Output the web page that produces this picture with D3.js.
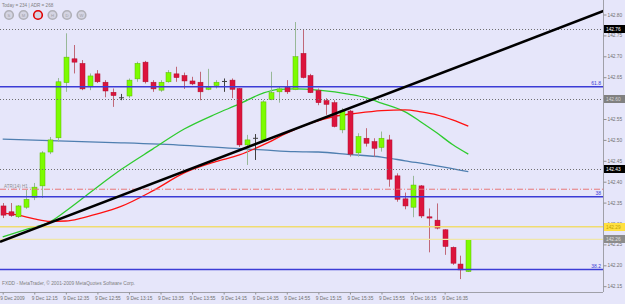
<!DOCTYPE html>
<html><head><meta charset="utf-8">
<script src="https://cdn.jsdelivr.net/npm/d3@7/dist/d3.min.js"></script>
<style>
body{margin:0;background:#e6e6fa;}
svg{display:block;font-family:"Liberation Sans",Arial,sans-serif;}
</style></head><body>
<svg width="625" height="304"></svg>
<script>
// 5 minute GBPJPY bars, 9 Dec 2009
var opens = [142.342,142.328,142.316,142.339,142.363,142.390,142.471,142.505,142.637,142.694,
  142.683,142.627,142.658,142.638,142.614,142.602,142.605,142.646,142.686,142.638,
  142.619,142.639,142.658,142.654,142.641,142.638,142.621,142.630,142.641,142.643,
  142.623,142.488,142.505,142.500,142.597,142.615,142.626,142.621,142.707,142.654,
  142.618,142.594,142.589,142.524,142.569,142.469,142.504,142.496,142.482,142.500,
  142.414,142.359,142.339,142.390,142.316,142.308,142.285,142.243,142.203,142.185];
var highs = [142.349,142.349,142.344,142.380,142.397,142.473,142.507,142.648,142.755,142.727,
  142.691,142.659,142.667,142.643,142.623,142.610,142.647,142.687,142.689,142.643,
  142.643,142.667,142.675,142.661,142.651,142.663,142.670,142.643,142.647,142.647,
  142.624,142.512,142.514,142.595,142.663,142.627,142.643,142.782,142.763,142.658,
  142.623,142.600,142.595,142.576,142.572,142.516,142.528,142.504,142.520,142.512,
  142.420,142.374,142.414,142.392,142.336,142.348,142.286,142.245,142.223,142.263];
var lows = [142.313,142.316,142.313,142.335,142.356,142.361,142.466,142.495,142.615,142.659,
  142.619,142.619,142.636,142.602,142.579,142.595,142.600,142.639,142.635,142.615,
  142.615,142.637,142.639,142.622,142.631,142.595,142.619,142.623,142.615,142.600,
  142.483,142.440,142.452,142.496,142.595,142.589,142.610,142.619,142.647,142.612,
  142.583,142.560,142.530,142.516,142.460,142.460,142.484,142.460,142.472,142.388,
  142.352,142.334,142.315,142.313,142.231,142.286,142.225,142.201,142.167,142.184];
var closes = [142.320,142.319,142.342,142.358,142.387,142.469,142.500,142.639,142.698,142.686,
  142.622,142.653,142.639,142.617,142.606,142.602,142.643,142.683,142.639,142.622,
  142.638,142.661,142.649,142.641,142.634,142.615,142.625,142.638,142.641,142.621,
  142.488,142.500,142.505,142.591,142.613,142.622,142.615,142.699,142.649,142.613,
  142.589,142.585,142.532,142.569,142.466,142.508,142.492,142.480,142.504,142.406,
  142.358,142.342,142.392,142.318,142.313,142.289,142.245,142.205,142.189,142.262];

// moving averages, [bar, price]
var maGreen = [[0,142.268],[3,142.286],[6,142.304],[8,142.330],[11,142.373],[15,142.429],[19,142.478],
  [23,142.526],[27,142.562],[30,142.586],[33,142.612],[35,142.621],[37,142.622],[40,142.619],[44,142.609],
  [46,142.601],[48,142.588],[51,142.567],[53,142.543],[55,142.517],[57,142.489],[59,142.466]];
var maRed = [[0,142.325],[2,142.320],[4,142.311],[6,142.305],[8,142.306],[10,142.313],[12,142.323],
  [15,142.341],[19,142.378],[23,142.421],[27,142.448],[30,142.464],[33,142.488],[36,142.516],[39,142.540],
  [42,142.556],[45,142.564],[48,142.570],[51,142.572],[53,142.567],[55,142.560],[57,142.548],[59,142.533]];
var maBlue = [[0,142.502],[8,142.497],[15,142.493],[23,142.487],[30,142.479],[33,142.476],[37,142.472],
  [40,142.471],[44,142.465],[48,142.459],[51,142.450],[55,142.438],[59,142.424]];

var trend = [[-0.34,142.256],[76.5,142.811]];

var timeBars = [0,4,8,12,16,20,24,28,32,36,40,44,48,52,56];
var timeLabels = ["9 Dec 2009","9 Dec 12:15","9 Dec 12:35","9 Dec 12:55","9 Dec 13:15","9 Dec 13:35",
  "9 Dec 13:55","9 Dec 14:15","9 Dec 14:35","9 Dec 14:55","9 Dec 15:15","9 Dec 15:35","9 Dec 15:55",
  "9 Dec 16:15","9 Dec 16:35"];
var priceTicks = [142.15,142.20,142.25,142.30,142.35,142.40,142.45,142.50,142.55,142.60,142.65,142.70,142.75,142.80];

var dottedLevels = [142.765,142.597,142.430];
var dottedLabels = ["142.76","142.60","142.43"];
var fibLevels = [142.627,142.364,142.190];
var fibLabels = ["61.8","38","38.2"];
var atrLevel = 142.382;
var askLevel = 142.292, bidLevel = 142.262;

var svg = d3.select("svg"),
    right = 603, bottom = 292;

var x = d3.scaleLinear().domain([0,59]).range([2.7,468.3]),
    y = d3.scaleLinear().domain([142.15,142.80]).range([286.2,14.5]);

svg.append("rect").attr("width",625).attr("height",304).attr("fill","#e6e6fa");
svg.append("clipPath").attr("id","clip").append("rect").attr("width",right).attr("height",bottom);
var g = svg.append("g").attr("clip-path","url(#clip)");

// moving averages
var line = d3.line().x(function(d){return x(d[0]);}).y(function(d){return y(d[1]);}).curve(d3.curveMonotoneX);
g.append("path").attr("d",line(maBlue)).attr("fill","none").attr("stroke","#4f7fb0").attr("stroke-width",1.3);
g.append("path").attr("d",line(maGreen)).attr("fill","none").attr("stroke","#2ecb2e").attr("stroke-width",1.3);
g.append("path").attr("d",line(maRed)).attr("fill","none").attr("stroke","#ff1010").attr("stroke-width",1.3);

// candles
var idx = d3.range(opens.length);
var cand = g.selectAll(".c").data(idx).enter().append("g").attr("class","c");
cand.append("line")
  .attr("x1",function(i){return Math.round(x(i))+0.5;}).attr("x2",function(i){return Math.round(x(i))+0.5;})
  .attr("y1",function(i){return y(highs[i]);}).attr("y2",function(i){return y(lows[i]);})
  .attr("stroke",function(i){ return closes[i]>opens[i] ? "#98b898" : closes[i]<opens[i] ? "#c06878" : "#404040"; })
  .attr("stroke-width",1);
cand.append("rect")
  .attr("x",function(i){return Math.round(x(i))-2;}).attr("width",5)
  .attr("y",function(i){return y(Math.max(opens[i],closes[i]));})
  .attr("height",function(i){return Math.max(1,Math.abs(y(opens[i])-y(closes[i])));})
  .attr("fill",function(i){ return closes[i]>opens[i] ? "#7cfc00" : closes[i]<opens[i] ? "#dc143c" : "#404040"; })
  .attr("stroke",function(i){ return closes[i]>opens[i] ? "#5cb800" : closes[i]<opens[i] ? "#b01030" : "none"; })
  .attr("stroke-width",0.5);

// levels
g.selectAll(".dl").data(dottedLevels).enter().append("line")
  .attr("x1",0).attr("x2",right).attr("y1",function(d){return Math.round(y(d))+0.5;}).attr("y2",function(d){return Math.round(y(d))+0.5;})
  .attr("stroke","#707070").attr("stroke-dasharray","1,2");
g.append("line").attr("x1",0).attr("x2",right).attr("y1",y(atrLevel)).attr("y2",y(atrLevel))
  .attr("stroke","#e87878").attr("stroke-dasharray","6,2,1,2");
g.append("text").attr("x",4).attr("y",y(atrLevel)-1.5).attr("font-size",4.5).attr("fill","#909090").text("ATR(14) H1 ...");
g.append("line").attr("x1",0).attr("x2",right).attr("y1",y(askLevel)).attr("y2",y(askLevel))
  .attr("stroke","#f0dc70").attr("stroke-width",1.5);
g.append("line").attr("x1",0).attr("x2",right).attr("y1",y(bidLevel)).attr("y2",y(bidLevel))
  .attr("stroke","#f0e6a8").attr("stroke-width",1.2);
g.selectAll(".fl").data(fibLevels).enter().append("line")
  .attr("x1",0).attr("x2",right).attr("y1",function(d){return y(d);}).attr("y2",function(d){return y(d);})
  .attr("stroke","#3c3cd6").attr("stroke-width",1.6);
g.selectAll(".ft").data(fibLevels).enter().append("text")
  .attr("x",601).attr("y",function(d){return y(d)-1.5;}).attr("text-anchor","end")
  .attr("font-size",5).attr("fill","#3c3cd6").text(function(d,i){return fibLabels[i];});

// trend line
g.append("path").attr("d",d3.line().x(function(d){return x(d[0]);}).y(function(d){return y(d[1]);})(trend))
  .attr("stroke","#000").attr("stroke-width",2.6).attr("fill","none");

// frame
svg.append("line").attr("x1",right+0.5).attr("x2",right+0.5).attr("y1",0).attr("y2",bottom).attr("stroke","#a0a0a8");
svg.append("line").attr("x1",0).attr("x2",right).attr("y1",bottom+0.5).attr("y2",bottom+0.5).attr("stroke","#a0a0a8");

// price axis
var ya = svg.append("g").attr("transform","translate("+(right+0.5)+",0)")
  .call(d3.axisRight(y).tickValues(priceTicks).tickSize(3).tickFormat(d3.format(".2f")));
ya.select(".domain").remove();
ya.selectAll("line").attr("stroke","#909090");
ya.selectAll("text").attr("font-size",4.8).attr("fill","#707070").attr("x",4).attr("font-family","Liberation Sans, Arial");

// time axis
var xa = svg.append("g").attr("transform","translate(0,"+(bottom+0.5)+")")
  .call(d3.axisBottom(x).tickValues(timeBars).tickSize(2).tickFormat(function(d,i){return timeLabels[i];}));
xa.select(".domain").remove();
xa.selectAll("line").attr("stroke","#909090");
xa.selectAll("text").attr("font-size",4.8).attr("fill","#707070").attr("text-anchor","start")
  .attr("dx",-3).attr("y",4).attr("font-family","Liberation Sans, Arial");

// price boxes
function box(price, label, fill, color) {
  var yy = Math.round(y(price));
  svg.append("rect").attr("x",right+1).attr("y",yy-4).attr("width",22).attr("height",8).attr("fill",fill);
  svg.append("text").attr("x",right+3).attr("y",yy+2).attr("font-size",4.8).attr("fill",color).text(label);
}
box(dottedLevels[0],dottedLabels[0],"#000","#fff");
box(dottedLevels[1],dottedLabels[1],"#808080","#d8d8d8");
box(dottedLevels[2],dottedLabels[2],"#000","#fff");
box(askLevel,"142.29","#ffe040","#c0a000");
box(bidLevel,"142.26","#8c8c8c","#e0e0e0");

// header
svg.append("text").attr("x",2).attr("y",7).attr("font-size",4.6).attr("fill","#808080").text("Today = 234  |  ADR = 268");
var icons = ["S","M","","H","D","W"];
var ic = svg.selectAll(".ic").data(icons).enter().append("g")
  .attr("transform",function(d,i){return "translate("+(9+i*14.5)+",15)";});
ic.append("circle").attr("r",4.3).attr("fill","#d4d4e2")
  .attr("stroke",function(d,i){return i==2 ? "#e00000" : "#b0b0b8";}).attr("stroke-width",1.6);
ic.append("text").attr("text-anchor","middle").attr("y",1.6).attr("font-size",4.2).attr("fill","#a0a0a8").text(function(d){return d;});

svg.append("text").attr("x",2).attr("y",285).attr("font-size",4.8).attr("fill","#808080")
  .text("FXDD - MetaTrader, © 2001-2009 MetaQuotes Software Corp.");
</script>
</body></html>
